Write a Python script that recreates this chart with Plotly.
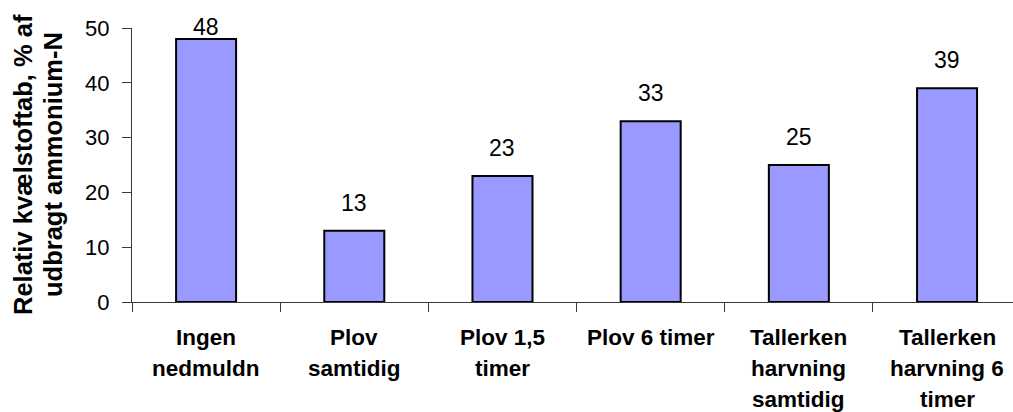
import plotly.graph_objects as go

# Relative nitrogen loss by incorporation method
categories = [
    "Ingen<br>nedmuldn",
    "Plov<br>samtidig",
    "Plov 1,5<br>timer",
    "Plov 6 timer",
    "Tallerken<br>harvning<br>samtidig",
    "Tallerken<br>harvning 6<br>timer",
]
loss_pct = [48, 13, 23, 33, 25, 39]
y_ticks = [0, 10, 20, 30, 40, 50]
y_title_lines = ["Relativ kvælstoftab, % af", "udbragt ammonium-N"]

FONT = "Arial, Liberation Sans, sans-serif"
BAR_FILL = "#9999FF"
AXIS_COLOR = "#3a3a3a"

fig = go.Figure()
fig.add_trace(
    go.Bar(
        x=categories,
        y=loss_pct,
        marker=dict(color=BAR_FILL, line=dict(color="black", width=2)),
        width=0.405,
        hoverinfo="x+y",
    )
)

annotations = []

# Value labels above the bars (kept inside the top of the plot frame)
for cat, val in zip(categories, loss_pct):
    annotations.append(
        dict(
            x=cat, y=val, xref="x", yref="y",
            text=str(val), showarrow=False,
            yanchor="bottom", yshift=13 if val < 45 else -3,
            font=dict(family=FONT, size=23, color="black"),
        )
    )

# Category labels, one line at a time for tight line spacing
LINE_STEP = 31
for cat in categories:
    for i, line in enumerate(cat.split("<br>")):
        annotations.append(
            dict(
                x=cat, y=0, xref="x", yref="paper",
                text=f"<b>{line}</b>", showarrow=False,
                yanchor="top", yshift=-21 - i * LINE_STEP,
                font=dict(family=FONT, size=22.5, color="black"),
            )
        )

# Rotated two-line y-axis title
for i, line in enumerate(y_title_lines):
    annotations.append(
        dict(
            x=0, y=0.5, xref="paper", yref="paper",
            text=f"<b>{line}</b>", showarrow=False,
            textangle=-90, xanchor="center", yanchor="middle",
            xshift=-109 + i * 30,
            font=dict(family=FONT, size=25.5, color="black"),
        )
    )

fig.update_layout(
    width=1013,
    height=412,
    margin=dict(l=132, r=0, t=28, b=110),
    paper_bgcolor="white",
    plot_bgcolor="white",
    showlegend=False,
    bargap=0.595,
    annotations=annotations,
    xaxis=dict(
        type="category",
        range=[-0.5, 5.445],
        showline=True, linecolor=AXIS_COLOR, linewidth=1,
        ticks="outside", tickson="boundaries", ticklen=9,
        tickcolor=AXIS_COLOR, showticklabels=False,
        showgrid=False, zeroline=False, fixedrange=True,
    ),
    yaxis=dict(
        range=[0, 50],
        tickvals=y_ticks,
        showline=True, linecolor=AXIS_COLOR, linewidth=1,
        ticks="outside", ticklen=9, tickcolor=AXIS_COLOR,
        tickfont=dict(family=FONT, size=22, color="black"),
        ticklabelstandoff=8,
        showgrid=False, zeroline=False, fixedrange=True,
    ),
)

fig.write_html("out.html")
